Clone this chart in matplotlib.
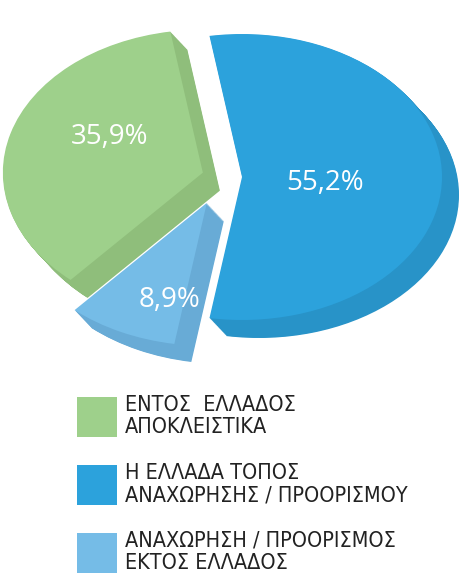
import matplotlib
matplotlib.use("Agg")
import matplotlib.pyplot as plt
from matplotlib.patches import Rectangle
import numpy as np

# share of trips, percent
labels = ["ΕΝΤΟΣ  ΕΛΛΑΔΟΣ\nΑΠΟΚΛΕΙΣΤΙΚΑ",
          "Η ΕΛΛΑΔΑ ΤΟΠΟΣ\nΑΝΑΧΩΡΗΣΗΣ / ΠΡΟΟΡΙΣΜΟΥ",
          "ΑΝΑΧΩΡΗΣΗ / ΠΡΟΟΡΙΣΜΟΣ\nΕΚΤΟΣ ΕΛΛΑΔΟΣ"]
values = [35.9, 55.2, 8.9]

# pie order: blue first, clockwise
pie_order = [1, 2, 0]
top_colors = {0: "#9ed08b", 1: "#2ca2dc", 2: "#75bce7"}
side_colors = {0: "#8fbe7b", 1: "#2893c8", 2: "#68abd6"}
explode = {0: 0.11, 1: 0.09, 2: 0.2}

W, H = 461, 573
fig = plt.figure(figsize=(W / 100, H / 100), dpi=100)
ax = fig.add_axes([0, 0, 1, 1])

# pixel geometry of the pie
cx, cy = 224, 177      # centre in pixels
rx, ry = 200, 143      # pixels per unit along x and y
dx, dy = 17 / rx, -18 / ry   # extrusion offset

vals = [values[i] for i in pie_order]
cols_top = [top_colors[i] for i in pie_order]
cols_side = [side_colors[i] for i in pie_order]
expl = [explode[i] for i in pie_order]
# centre the big slice on the right
start = 90 + (vals[0] / 100 * 360 - 180) / 2

steps = 30
for s in range(steps, 0, -1):
    t = s / steps
    ax.pie(vals, colors=cols_side, explode=expl, startangle=start,
           counterclock=False, center=(dx * t, dy * t),
           wedgeprops=dict(linewidth=0, zorder=1))
ax.pie(vals, colors=cols_top, explode=expl, startangle=start,
       counterclock=False, center=(0, 0),
       wedgeprops=dict(linewidth=0, zorder=2))

ax.set_aspect("auto")
ax.set_xlim(-cx / rx, (W - cx) / rx)
ax.set_ylim((cy - H) / ry, cy / ry)
ax.axis("off")

# label centres in pixels
label_px = {0: (110, 137), 1: (325, 183), 2: (169, 300)}
for i, v in enumerate(values):
    px, py = label_px[i]
    ax.text((px - cx) / rx, (cy - py) / ry, f"{v:.1f}%".replace(".", ","),
            color="white", fontsize=20, family="Open Sans",
            ha="center", va="center", zorder=5)

# legend
legend_tops = [397, 465, 533]
for i, top in enumerate(legend_tops):
    fig.patches.append(Rectangle((77 / W, 1 - (top + 40) / H), 40 / W, 40 / H,
                                 transform=fig.transFigure,
                                 color=top_colors[i], linewidth=0))
    fig.text(125 / W, 1 - (top - 2) / H, labels[i], ha="left", va="top",
             fontsize=15.5, family="DejaVu Sans", fontstretch="condensed",
             color="#222222", linespacing=1.15)

fig.savefig("out.png", dpi=100)
